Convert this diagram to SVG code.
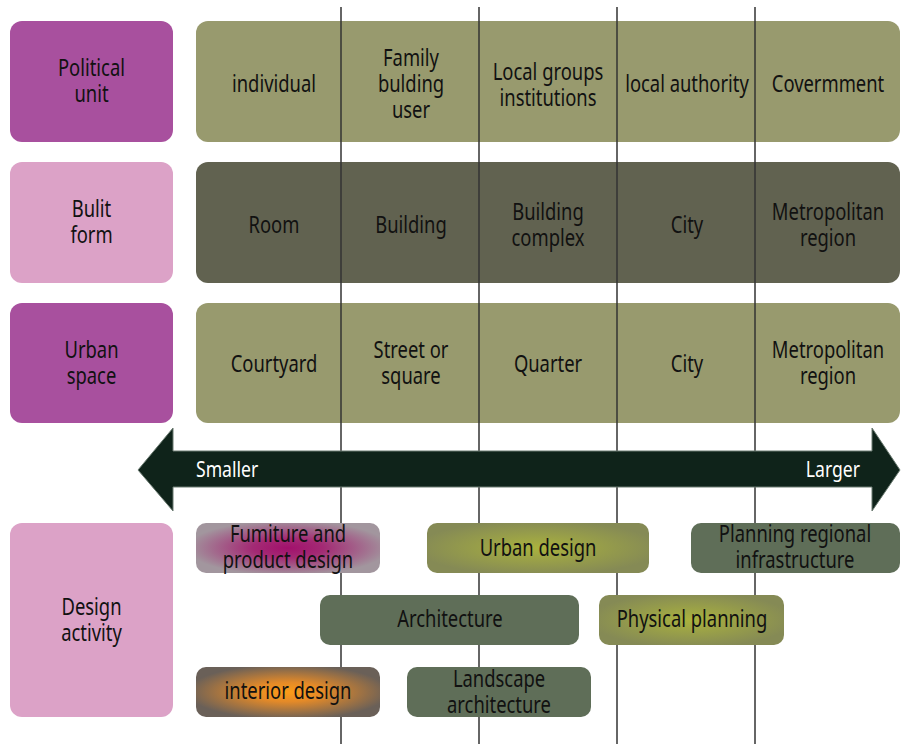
<svg xmlns="http://www.w3.org/2000/svg" width="901" height="744" viewBox="0 0 901 744">
<style>
text{font-family:"Noto Sans","DejaVu Sans",sans-serif;font-size:23px;fill:#111111;text-anchor:middle}
.wt{fill:#ffffff;font-size:22px}
.mag{fill:#a8509e}
.pink{fill:#dca2c7}
.olive{fill:#989a6e}
.dark{fill:#616250}
.dg{fill:#5f6e58}
.vline{stroke:#333;stroke-width:1.5}
</style>
<defs>
<radialGradient id="gMag" cx="0.5" cy="0.5" r="0.55">
<stop offset="0" stop-color="#a2106c"/>
<stop offset="0.35" stop-color="#a32a74"/>
<stop offset="1" stop-color="#a2969e"/>
</radialGradient>
<radialGradient id="gOr" cx="0.5" cy="0.5" r="0.55">
<stop offset="0" stop-color="#fb9c18"/>
<stop offset="0.35" stop-color="#e48a28"/>
<stop offset="1" stop-color="#6a6058"/>
</radialGradient>
<radialGradient id="gOl" cx="0.5" cy="0.5" r="0.55">
<stop offset="0" stop-color="#aab23e"/>
<stop offset="1" stop-color="#858a55"/>
</radialGradient>
</defs>

<g id="labels">
<g id="political-unit"><rect class="mag" x="10" y="21" width="163" height="121" rx="12"/>
<text transform="translate(91.5 0) scale(.8 1)"><tspan x="0" y="76">Political</tspan><tspan x="0" y="102">unit</tspan></text></g>
<g id="built-form"><rect class="pink" x="10" y="162" width="163" height="121" rx="12"/>
<text transform="translate(91.5 0) scale(.8 1)"><tspan x="0" y="217">Bulit</tspan><tspan x="0" y="243">form</tspan></text></g>
<g id="urban-space"><rect class="mag" x="10" y="303" width="163" height="120" rx="12"/>
<text transform="translate(91.5 0) scale(.8 1)"><tspan x="0" y="358">Urban</tspan><tspan x="0" y="384">space</tspan></text></g>
<g id="design-activity"><rect class="pink" x="10" y="523" width="163" height="194" rx="12"/>
<text transform="translate(91.5 0) scale(.8 1)"><tspan x="0" y="615">Design</tspan><tspan x="0" y="641">activity</tspan></text></g>
</g>

<g id="row-backgrounds">
<rect id="row-political" class="olive" x="196" y="21" width="704" height="121" rx="12"/>
<rect id="row-built" class="dark" x="196" y="162" width="704" height="121" rx="12"/>
<rect id="row-urban" class="olive" x="196" y="303" width="704" height="120" rx="12"/>
</g>

<g id="connectors">
<line class="vline" x1="341" y1="7" x2="341" y2="744"/>
<line class="vline" x1="479" y1="7" x2="479" y2="744"/>
<line class="vline" x1="617" y1="7" x2="617" y2="744"/>
<line class="vline" x1="755" y1="7" x2="755" y2="744"/>
</g>

<g id="arrow">
<path d="M138 470 L173 428 L173 451 L872 451 L872 428 L900 470 L872 511 L872 487 L173 487 L173 511 Z" fill="#0f231a" stroke="#6a7a70" stroke-width="1"/>
<text class="wt" transform="translate(196 0) scale(.8 1)" x="0" y="477" style="text-anchor:start">Smaller</text>
<text class="wt" transform="translate(860 0) scale(.8 1)" x="0" y="477" style="text-anchor:end">Larger</text>
</g>

<g id="furniture"><rect x="196" y="523" width="184" height="50" rx="10" fill="url(#gMag)"/>
<text transform="translate(288 0) scale(.8 1)"><tspan x="0" y="542">Fumiture and</tspan><tspan x="0" y="568">product design</tspan></text></g>
<g id="urban-design"><rect x="427" y="523" width="222" height="50" rx="10" fill="url(#gOl)"/>
<text transform="translate(538 0) scale(.8 1)" y="556">Urban design</text></g>
<g id="planning-regional"><rect class="dg" x="691" y="523" width="209" height="50" rx="10"/>
<text transform="translate(795 0) scale(.8 1)"><tspan x="0" y="542">Planning regional</tspan><tspan x="0" y="568">infrastructure</tspan></text></g>
<g id="architecture"><rect class="dg" x="320" y="595" width="259" height="50" rx="10"/>
<text transform="translate(450 0) scale(.8 1)" y="627">Architecture</text></g>
<g id="physical-planning"><rect x="599" y="595" width="185" height="50" rx="10" fill="url(#gOl)"/>
<text transform="translate(692 0) scale(.8 1)" y="627">Physical planning</text></g>
<g id="interior-design"><rect x="196" y="667" width="184" height="50" rx="10" fill="url(#gOr)"/>
<text transform="translate(288 0) scale(.8 1)" y="699">interior design</text></g>
<g id="landscape"><rect class="dg" x="407" y="667" width="184" height="50" rx="10"/>
<text transform="translate(499 0) scale(.8 1)"><tspan x="0" y="687">Landscape</tspan><tspan x="0" y="713">architecture</tspan></text></g>

<g id="cells">
<text transform="translate(274 0) scale(.8 1)" y="92">individual</text>
<text transform="translate(411 0) scale(.8 1)"><tspan x="0" y="66">Family</tspan><tspan x="0" y="92">bulding</tspan><tspan x="0" y="118">user</tspan></text>
<text transform="translate(548 0) scale(.8 1)"><tspan x="0" y="80">Local groups</tspan><tspan x="0" y="106">institutions</tspan></text>
<text transform="translate(687 0) scale(.8 1)" y="92">local authority</text>
<text transform="translate(828 0) scale(.8 1)" y="92">Covermment</text>
<text transform="translate(274 0) scale(.8 1)" y="233">Room</text>
<text transform="translate(411 0) scale(.8 1)" y="233">Building</text>
<text transform="translate(548 0) scale(.8 1)"><tspan x="0" y="220">Building</tspan><tspan x="0" y="246">complex</tspan></text>
<text transform="translate(687 0) scale(.8 1)" y="233">City</text>
<text transform="translate(828 0) scale(.8 1)"><tspan x="0" y="220">Metropolitan</tspan><tspan x="0" y="246">region</tspan></text>
<text transform="translate(274 0) scale(.8 1)" y="372">Courtyard</text>
<text transform="translate(411 0) scale(.8 1)"><tspan x="0" y="358">Street or</tspan><tspan x="0" y="384">square</tspan></text>
<text transform="translate(548 0) scale(.8 1)" y="372">Quarter</text>
<text transform="translate(687 0) scale(.8 1)" y="372">City</text>
<text transform="translate(828 0) scale(.8 1)"><tspan x="0" y="358">Metropolitan</tspan><tspan x="0" y="384">region</tspan></text>
</g>
</svg>
